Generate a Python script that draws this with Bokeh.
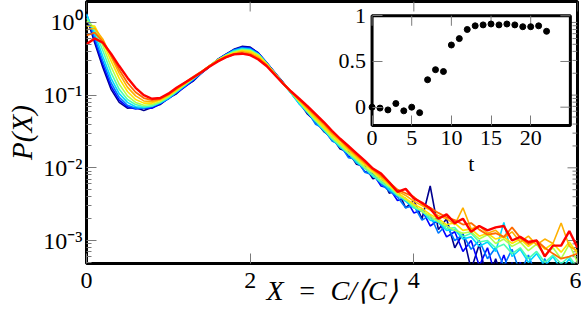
import math
from bokeh.plotting import figure
from bokeh.models import (Range1d, FixedTicker, CustomJSTickFormatter, Label, LinearAxis,
                          LinearScale)
from bokeh.embed import file_html
from bokeh.resources import INLINE

# ---------------- data ----------------
x_values = [0.0, 0.1, 0.2, 0.3, 0.4, 0.5, 0.6, 0.7, 0.8, 0.9,
            1.0, 1.1, 1.2, 1.3, 1.4, 1.5, 1.6, 1.7, 1.8, 1.9,
            2.0, 2.1, 2.2, 2.3, 2.4, 2.5, 2.6, 2.7, 2.8, 2.9,
            3.0, 3.1, 3.2, 3.3, 3.4, 3.5, 3.6, 3.7, 3.8, 3.9,
            4.0, 4.1, 4.2, 4.3, 4.4, 4.5, 4.6, 4.7, 4.8, 4.9,
            5.0, 5.1, 5.2, 5.3, 5.4, 5.5, 5.6, 5.7, 5.8, 5.9,
            6.0]

# log10 P(X) for successive times (blue -> red)
log10_p_1 = [0.08, -0.28, -0.62, -0.92, -1.10, -1.18, -1.17, -1.21, -1.17, -1.13,
             -1.04, -0.98, -0.88, -0.81, -0.70, -0.61, -0.51, -0.44, -0.37, -0.33,
             -0.34, -0.42, -0.55, -0.69, -0.82, -0.97, -1.10, -1.26, -1.36, -1.50,
             -1.58, -1.74, -1.78, -1.95, -1.98, -2.15, -2.12, -2.35, -2.30, -2.55,
             -2.45, -2.70, -2.25, -2.85, -2.70, -3.10, -2.90, -3.40, -3.05, -3.60,
             -3.25, -3.60, -3.30, -3.70, -3.40, -3.70, -3.45, -3.80, -3.50, -3.80,
             -3.60]
log10_p_2 = [0.10, -0.25, -0.58, -0.88, -1.07, -1.16, -1.19, -1.18, -1.18, -1.12,
             -1.05, -0.97, -0.89, -0.80, -0.70, -0.61, -0.52, -0.44, -0.38, -0.34,
             -0.35, -0.42, -0.55, -0.69, -0.83, -0.96, -1.11, -1.24, -1.38, -1.48,
             -1.62, -1.70, -1.84, -1.90, -2.05, -2.08, -2.25, -2.28, -2.45, -2.42,
             -2.62, -2.58, -2.80, -2.72, -2.95, -2.88, -3.15, -3.00, -3.35, -3.10,
             -3.50, -3.20, -3.55, -3.30, -3.60, -3.35, -3.70, -3.40, -3.70, -3.45,
             -3.70]
log10_p_3 = [0.12, -0.21, -0.53, -0.83, -1.03, -1.14, -1.18, -1.18, -1.16, -1.11,
             -1.05, -0.96, -0.88, -0.79, -0.70, -0.61, -0.52, -0.45, -0.38, -0.35,
             -0.36, -0.43, -0.56, -0.70, -0.83, -0.97, -1.12, -1.22, -1.40, -1.46,
             -1.63, -1.68, -1.86, -1.88, -2.06, -2.10, -2.22, -2.32, -2.40, -2.55,
             -2.52, -2.72, -2.65, -2.90, -2.78, -3.00, -2.92, -3.12, -3.00, -3.25,
             -3.10, -3.35, -3.12, -3.45, -3.20, -3.50, -3.25, -3.55, -3.30, -3.60,
             -3.35]
log10_p_4 = [0.11, -0.16, -0.47, -0.77, -0.98, -1.10, -1.16, -1.17, -1.15, -1.11,
             -1.04, -0.96, -0.87, -0.78, -0.69, -0.60, -0.52, -0.45, -0.39, -0.36,
             -0.37, -0.44, -0.56, -0.70, -0.84, -0.97, -1.12, -1.24, -1.36, -1.49,
             -1.60, -1.72, -1.80, -1.93, -2.00, -2.12, -2.18, -2.30, -2.38, -2.46,
             -2.55, -2.60, -2.72, -2.75, -2.86, -2.85, -2.98, -2.95, -3.08, -3.02,
             -3.15, -2.75, -3.22, -3.12, -3.30, -3.18, -3.35, -3.22, -3.40, -3.25,
             -3.45]
log10_p_5 = [0.06, -0.11, -0.39, -0.69, -0.92, -1.06, -1.13, -1.16, -1.15, -1.10,
             -1.03, -0.95, -0.86, -0.78, -0.69, -0.60, -0.52, -0.45, -0.40, -0.37,
             -0.38, -0.44, -0.56, -0.70, -0.84, -0.97, -1.10, -1.23, -1.36, -1.47,
             -1.60, -1.70, -1.80, -1.90, -2.01, -2.10, -2.20, -2.27, -2.38, -2.42,
             -2.55, -2.58, -2.70, -2.72, -2.84, -2.82, -2.95, -2.90, -3.02, -3.00,
             -3.10, -3.05, -3.18, -3.10, -3.25, -3.15, -3.30, -3.20, -3.32, -3.22,
             -3.38]
log10_p_6 = [0.02, -0.07, -0.32, -0.61, -0.85, -1.01, -1.10, -1.14, -1.13, -1.09,
             -1.02, -0.94, -0.86, -0.77, -0.69, -0.60, -0.52, -0.46, -0.41, -0.38,
             -0.39, -0.45, -0.57, -0.70, -0.84, -0.96, -1.09, -1.22, -1.34, -1.46,
             -1.58, -1.68, -1.79, -1.88, -1.99, -2.07, -2.17, -2.25, -2.36, -2.44,
             -2.52, -2.60, -2.66, -2.74, -2.80, -2.86, -2.90, -2.88, -2.98, -2.92,
             -3.04, -2.98, -3.08, -3.02, -3.14, -3.05, -3.20, -3.10, -3.25, -3.05,
             -3.30]
log10_p_7 = [-0.05, -0.05, -0.27, -0.53, -0.77, -0.95, -1.06, -1.11, -1.11, -1.07,
             -1.01, -0.93, -0.85, -0.77, -0.68, -0.60, -0.52, -0.46, -0.42, -0.39,
             -0.40, -0.46, -0.57, -0.70, -0.83, -0.96, -1.08, -1.20, -1.32, -1.44,
             -1.55, -1.66, -1.76, -1.86, -1.96, -2.05, -2.14, -2.24, -2.34, -2.42,
             -2.50, -2.56, -2.64, -2.70, -2.78, -2.76, -2.86, -2.84, -2.94, -2.90,
             -2.98, -2.95, -3.04, -2.98, -3.08, -3.00, -3.12, -3.04, -3.16, -3.02,
             -3.18]
log10_p_8 = [-0.10, -0.08, -0.23, -0.47, -0.70, -0.89, -1.01, -1.08, -1.09, -1.06,
             -1.00, -0.92, -0.84, -0.76, -0.68, -0.60, -0.53, -0.47, -0.43, -0.40,
             -0.42, -0.48, -0.58, -0.71, -0.83, -0.95, -1.07, -1.18, -1.30, -1.41,
             -1.53, -1.63, -1.74, -1.84, -1.94, -2.03, -2.12, -2.22, -2.32, -2.38,
             -2.46, -2.52, -2.58, -2.66, -2.70, -2.78, -2.55, -2.84, -2.80, -2.90,
             -2.86, -2.96, -2.88, -3.02, -2.94, -3.06, -2.98, -3.04, -2.76, -3.08,
             -3.14]
log10_p_9 = [-0.18, -0.14, -0.26, -0.45, -0.65, -0.83, -0.96, -1.04, -1.07, -1.05,
             -0.99, -0.91, -0.83, -0.75, -0.68, -0.60, -0.53, -0.48, -0.44, -0.42,
             -0.44, -0.50, -0.59, -0.71, -0.84, -0.95, -1.06, -1.17, -1.28, -1.39,
             -1.51, -1.61, -1.72, -1.82, -1.92, -2.02, -2.10, -2.20, -2.30, -2.35,
             -2.40, -2.50, -2.55, -2.62, -2.68, -2.72, -2.78, -2.76, -2.85, -2.92,
             -2.90, -2.95, -2.82, -2.96, -3.05, -3.00, -3.10, -3.18, -3.25, -3.22,
             -3.18]
log10_p_10 = [-0.30, -0.22, -0.28, -0.43, -0.60, -0.76, -0.90, -1.00, -1.05, -1.04,
              -0.98, -0.90, -0.83, -0.76, -0.69, -0.61, -0.54, -0.48, -0.44, -0.43,
              -0.45, -0.51, -0.60, -0.72, -0.84, -0.95, -1.05, -1.15, -1.26, -1.37,
              -1.49, -1.60, -1.70, -1.80, -1.90, -2.01, -2.08, -2.20, -2.33, -2.29,
              -2.42, -2.48, -2.56, -2.70, -2.64, -2.76, -2.70, -2.88, -2.80, -2.86,
              -2.82, -2.80, -3.00, -2.95, -3.02, -3.00, -3.22, -3.07, -3.07, -2.87,
              -3.10]

series_list = [log10_p_1, log10_p_2, log10_p_3, log10_p_4, log10_p_5,
               log10_p_6, log10_p_7, log10_p_8, log10_p_9, log10_p_10]

# inset data
inset_t = [0, 1, 2, 3, 4, 5, 6, 7, 8, 9, 10, 11, 12, 13, 14, 15, 16, 17, 18, 19, 20, 21, 22]
inset_val = [0.0, -0.01, -0.03, 0.04, -0.04, 0.0, -0.06, 0.30, 0.41, 0.39, 0.68, 0.75,
             0.85, 0.89, 0.90, 0.91, 0.90, 0.91, 0.90, 0.88, 0.88, 0.89, 0.83]

x_ticks = [0, 2, 4, 6]
y_ticks = [1e-3, 1e-2, 1e-1, 1.0]
inset_x_ticks = [0, 5, 10, 15, 20]
inset_y_ticks = [0, 0.5, 1]

# ---------------- styles ----------------
colors = ["#00008F", "#0000FF", "#0078FF", "#00D8FF", "#4CFFB0",
          "#B0FF4C", "#FFE400", "#FFB000", "#FF6C00", "#FF0000"]
widths = [1.6, 1.6, 1.6, 1.6, 1.6, 1.6, 1.6, 1.6, 1.8, 2.4]
FONT = "Liberation Serif"
TICK_COLOR = "#7a7a7a"

x_lo, x_hi = 0, 6
y_lo, y_hi = 4.83e-4, 1.94
inset_xb = (0, 25)
inset_yb = (-0.2, 1.0)

p = figure(width=581, height=314, output_backend="svg", toolbar_location=None,
           x_range=Range1d(x_lo, x_hi), y_range=Range1d(y_lo, y_hi), y_axis_type="log",
           min_border_left=86, min_border_right=4, min_border_top=1, min_border_bottom=51,
           background_fill_color="white", border_fill_color="white")
p.xgrid.visible = False
p.ygrid.visible = False
p.outline_line_color = "black"
p.outline_line_width = 3

p.extra_x_ranges = {"ix": Range1d(-36.0, 25.9)}
p.extra_y_ranges = {"iy": Range1d(-1.71, 1.156)}
p.extra_x_scales = {"ix": LinearScale()}
p.extra_y_scales = {"iy": LinearScale()}

y_minor = [m * 10.0 ** e for e in range(-4, 1) for m in range(2, 10)]

for ax in (p.xaxis[0], p.yaxis[0]):
    ax.axis_line_color = None
    ax.major_tick_in = 10
    ax.major_tick_out = 0
    ax.minor_tick_in = 5
    ax.minor_tick_out = 0
    ax.major_tick_line_color = TICK_COLOR
    ax.minor_tick_line_color = TICK_COLOR
    ax.major_label_text_font = FONT
    ax.major_label_text_font_size = "24px"
    ax.major_label_text_color = "black"
    ax.axis_label_text_font = FONT
    ax.axis_label_text_font_style = "italic"
    ax.axis_label_text_color = "black"

xa = p.xaxis[0]
xa.ticker = FixedTicker(ticks=x_ticks, minor_ticks=[])
xa.axis_label = "X\u2002=\u2002C/\u27e8C\u27e9"
xa.axis_label_text_font_size = "28px"
xa.major_label_standoff = 9
xa.axis_label_standoff = -16

ya = p.yaxis[0]
ya.ticker = FixedTicker(ticks=y_ticks, minor_ticks=y_minor)
sup_code = """
const e = Math.round(Math.log10(tick));
const sup = {"0": "\u2070", "1": "\u00b9", "2": "\u00b2", "3": "\u00b3", "4": "\u2074", "-": "\u207b"};
let s = "";
for (const c of String(e)) { s += sup[c]; }
return "10" + s;
"""
ya.formatter = CustomJSTickFormatter(code=sup_code)
ya.major_label_standoff = 4
ya.axis_label = "P(X)"
ya.axis_label_text_font_size = "29px"
ya.axis_label_standoff = 2

# mirrored ticks on top and right of the main frame
p.ray(x=x_ticks, y=[y_hi] * len(x_ticks), length=10, length_units="screen",
      angle=-math.pi / 2, line_color=TICK_COLOR, line_width=1)
p.ray(x=[x_hi] * len(y_ticks), y=y_ticks, length=10, length_units="screen",
      angle=math.pi, line_color=TICK_COLOR, line_width=1)
p.ray(x=[x_hi] * len(y_minor), y=y_minor, length=5, length_units="screen",
      angle=math.pi, line_color=TICK_COLOR, line_width=1)

# main curves
for s, c, w in zip(series_list, colors, widths):
    p.line(x_values, [10.0 ** v for v in s], line_color=c, line_width=w)

# ---------------- inset ----------------
p.quad(left=inset_xb[0], right=inset_xb[1], bottom=inset_yb[0], top=inset_yb[1],
       x_range_name="ix", y_range_name="iy", fill_color="white",
       line_color="black", line_width=3)
p.ray(x=inset_x_ticks, y=[inset_yb[1]] * len(inset_x_ticks), length=10,
      length_units="screen", angle=-math.pi / 2, x_range_name="ix", y_range_name="iy",
      line_color=TICK_COLOR, line_width=1)
p.ray(x=[inset_xb[1]] * len(inset_y_ticks), y=inset_y_ticks, length=10,
      length_units="screen", angle=math.pi, x_range_name="ix", y_range_name="iy",
      line_color=TICK_COLOR, line_width=1)
p.scatter(inset_t, inset_val, x_range_name="ix", y_range_name="iy",
          size=6, color="black")

def inset_axis(side, fixed, bounds, ticks):
    ax = LinearAxis(x_range_name="ix", y_range_name="iy", fixed_location=fixed,
                    bounds=bounds, ticker=FixedTicker(ticks=ticks, minor_ticks=[]))
    ax.axis_line_color = None
    ax.major_tick_in = 10
    ax.major_tick_out = 0
    ax.minor_tick_in = 0
    ax.minor_tick_out = 0
    ax.major_tick_line_color = TICK_COLOR
    ax.formatter = CustomJSTickFormatter(code="return tick.toString();")
    ax.major_label_text_font = FONT
    ax.major_label_text_font_size = "22px"
    ax.major_label_text_color = "black"
    ax.major_label_standoff = 6
    p.add_layout(ax, side)
    return ax

inset_axis("below", inset_yb[0], inset_xb, inset_x_ticks)
inset_axis("left", inset_xb[0], inset_yb, inset_y_ticks)

p.add_layout(Label(x=12.5, y=inset_yb[0], x_range_name="ix", y_range_name="iy",
                   y_offset=-26, text="t", text_align="center", text_baseline="top",
                   text_font=FONT, text_font_size="22px", text_color="black"))

open("out.html", "w").write(file_html(p, INLINE))
